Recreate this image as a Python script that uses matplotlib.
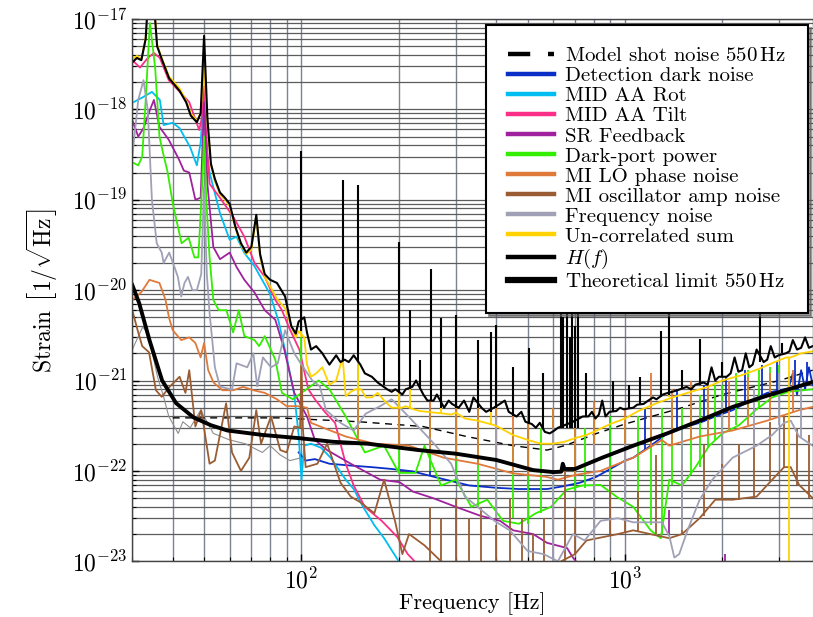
import numpy as np
import matplotlib
matplotlib.use('Agg')
import matplotlib.pyplot as plt
from matplotlib.ticker import NullFormatter, LogLocator

plt.rcParams['font.family'] = 'serif'
plt.rcParams['font.serif'] = ['cmr10']
plt.rcParams['mathtext.fontset'] = 'cm'
plt.rcParams['axes.formatter.use_mathtext'] = True

# ---- Model shot noise 550 Hz (dashed)
f_model = [40, 85, 150, 237, 324, 451, 574, 650, 725, 818, 1000, 1500, 2000, 3000, 3800]
v_model = [3.86e-22, 3.86e-22, 3.5e-22, 3.1e-22, 2.4e-22, 1.9e-22, 1.7e-22, 1.9e-22,
           2.2e-22, 2.6e-22, 3.3e-22, 5e-22, 7e-22, 1e-21, 1.3e-21]

# ---- thin grey trace (no legend entry)
f_thin = [30, 32.3, 33.5, 35.9, 37.5, 38.9, 41.6, 43, 45.3, 48.8, 53.4, 60, 67, 75.7, 80, 86, 92, 100]
v_thin = [2.2e-21, 3.9e-21, 3.4e-21, 1.1e-21, 6.6e-22, 4e-22, 2.6e-22, 3.5e-22, 3e-22, 4.7e-22,
          2.6e-22, 2.2e-22, 2e-22, 1.6e-22, 1.9e-22, 1.5e-22, 1.3e-22, 1.4e-22]

# ---- Detection dark noise
f_dark = [98, 103, 110, 122, 140, 165, 190, 220, 260, 300, 330, 400, 470, 574, 650, 725, 815,
          900, 1000, 1060, 1200, 1350, 1500, 1700, 1900, 2150, 2400, 2750, 3200, 3300, 3400,
          3500, 3600, 3700, 3800]
v_dark = [1.6e-22, 1.3e-22, 1.35e-22, 1.2e-22, 1.15e-22, 1.1e-22, 1.05e-22, 9.9e-23, 8.5e-23,
          7.5e-23, 6.9e-23, 6.5e-23, 6.3e-23, 6.3e-23, 6.8e-23, 7.4e-23, 8.6e-23, 1.05e-22,
          1.3e-22, 1.4e-22, 1.9e-22, 2.6e-22, 3e-22, 3.4e-22, 4e-22, 4.7e-22, 5.8e-22, 7.3e-22,
          8.2e-22, 1.2e-21, 7e-22, 1.3e-21, 8e-22, 1.4e-21, 8.9e-22]
sf_dark = [250, 300, 400, 500, 700, 900, 1150, 1450, 1750, 2050, 2350, 2650, 2950, 3350, 3650]
slo_dark = [9e-23, 7.5e-23, 6.5e-23, 6.3e-23, 7e-23, 1e-22, 1.7e-22, 2.9e-22, 3.5e-22, 4.4e-22,
            5.6e-22, 7e-22, 7.8e-22, 8.4e-22, 8.7e-22]
shi_dark = [3e-22, 4e-22, 3e-22, 3e-22, 3e-22, 4e-22, 5e-22, 8e-22, 9e-22, 1.1e-21, 1.3e-21,
            1.5e-21, 1.6e-21, 1.7e-21, 1.6e-21]

# ---- MID AA Rot
f_rot = [30, 32.2, 34.5, 36.5, 37.5, 40, 42, 45.3, 47.5, 48.8, 50, 51.2, 52, 56, 60, 63, 66.5,
         71.5, 76.5, 80, 85, 90, 95, 98, 100, 102, 107, 115, 123, 137, 145, 155, 168, 180, 198, 215]
v_rot = [1.18e-18, 1.35e-18, 1.56e-18, 1.27e-18, 6.7e-19, 7.1e-19, 6.2e-19, 3.8e-19, 2.4e-19,
         4.3e-19, 1.5e-18, 3e-19, 2e-19, 7.1e-20, 3.6e-20, 3.9e-20, 2.6e-20, 1.85e-20, 1.2e-20,
         9e-21, 4.5e-21, 1.8e-21, 7e-22, 2.5e-22, 8e-23, 1.9e-22, 2e-22, 1.8e-22, 1.4e-22, 8e-23,
         6.3e-23, 4e-23, 2.5e-23, 1.8e-23, 1.05e-23, 6e-24]

# ---- MID AA Tilt
f_tilt = [30, 31.7, 33.5, 35, 36.5, 38.9, 41.8, 45, 48.3, 49.2, 50, 50.8, 52, 56, 61.5, 66.6,
          71.6, 77, 83, 87, 92, 98.5, 105, 110, 118, 127, 137, 145, 157, 177, 198, 213, 230]
v_tilt = [3.5e-18, 2.9e-18, 3.7e-18, 4.2e-18, 3.7e-18, 2.1e-18, 1.6e-18, 1.2e-18, 5.9e-19,
          8e-19, 1.8e-18, 5e-19, 1.5e-19, 1.05e-19, 6.5e-20, 3.9e-20, 2e-20, 1.4e-20, 7.8e-21,
          6e-21, 3.7e-21, 2.2e-21, 8e-22, 6.2e-22, 4.5e-22, 3.4e-22, 1.2e-22, 6.9e-23, 4e-23,
          2.8e-23, 1.85e-23, 1.2e-23, 9e-24]

# ---- SR Feedback
f_sr = [30, 31.3, 32.5, 34, 35, 36.4, 38.9, 41.8, 43.3, 45, 47, 48.8, 50, 51.2, 53.4, 56, 60,
        63, 66.6, 71.6, 77, 83, 88.5, 95, 104, 110, 120, 142, 175, 201, 221, 255, 300, 356,
        411, 451, 520, 574, 662, 690, 740, 800]
v_sr = [7.6e-19, 5e-19, 6.2e-19, 9.8e-19, 1.27e-18, 6.4e-19, 4.6e-19, 2.8e-19, 2.1e-19, 2e-19,
        1e-19, 1.05e-19, 1.2e-18, 1.5e-19, 3e-20, 2.2e-20, 2.6e-20, 1.8e-20, 1.3e-20, 9.4e-21,
        6e-21, 4.7e-21, 2.2e-21, 7.3e-22, 4e-22, 2.2e-22, 1.7e-22, 1.2e-22, 8e-23, 7.5e-23,
        5.9e-23, 5e-23, 4e-23, 3.2e-23, 2.8e-23, 2.2e-23, 2e-23, 1.6e-23, 1.4e-23, 1.1e-23,
        8e-24, 6e-24]
sf_sr = [1370, 2040]
slo_sr = [1.9e-23, 9e-24]
shi_sr = [3.7e-23, 1.2e-23]

# ---- Dark-port power
f_dp = [30, 31.3, 32.2, 33, 34, 35.3, 36.4, 37.2, 38.6, 40, 42.6, 44.8, 46.7, 48, 49.3, 50,
        50.8, 52, 53.4, 55.5, 58.6, 61.5, 64, 66.6, 71.6, 74, 77, 83, 87, 94, 113, 122, 137,
        157, 180, 200, 225, 240, 270, 300, 335, 375, 420, 470, 530, 590, 660, 740, 840, 940,
        1060, 1200, 1290, 1370, 1500, 1650, 1820, 2000, 2250, 2550, 2850, 3200, 3800]
v_dp = [2.6e-19, 2.4e-19, 3e-19, 1.27e-18, 9e-18, 2.9e-18, 5e-19, 3.5e-19, 2e-19, 9.2e-20,
        3.3e-20, 3.8e-20, 2.3e-20, 2.3e-20, 1.4e-19, 5e-19, 1e-19, 2.3e-20, 7.8e-21, 6e-21,
        6e-21, 3.4e-21, 6e-21, 3.1e-21, 2.8e-21, 2.4e-21, 3.1e-21, 1.7e-21, 7.3e-22, 6.2e-22,
        1e-21, 8e-22, 4e-22, 1.6e-22, 1.9e-22, 9.5e-23, 9.5e-23, 1.9e-22, 6.9e-23, 8e-23,
        4e-23, 4.8e-23, 2.8e-23, 2.6e-23, 3.4e-23, 4e-23, 6.2e-23, 6.9e-23, 7e-23, 5.2e-23,
        4e-23, 2.2e-23, 1.8e-23, 8e-23, 6.9e-23, 1.1e-22, 1.9e-22, 2.6e-22, 3.2e-22, 4.8e-22,
        6.5e-22, 7.5e-22, 8e-22]
sf_dp = [100, 150, 200, 250, 300, 350, 400, 450, 500, 550, 600, 700, 750, 800, 900, 1000,
         1100, 1200, 1300, 1400, 1500, 1600, 1700, 1800, 1900, 2000, 2200, 2400, 2600, 2800, 3000]
slo_dp = [6e-22, 2.5e-22, 9.5e-23, 1e-22, 8e-23, 4e-23, 4.8e-23, 3e-23, 2.6e-23, 3.4e-23,
          4e-23, 6e-23, 6.5e-23, 7e-23, 6e-23, 5e-23, 4e-23, 2.5e-23, 2e-23, 7e-23, 7e-23,
          9e-23, 1.1e-22, 1.8e-22, 2.2e-22, 2.6e-22, 3.2e-22, 4.2e-22, 5e-22, 6.5e-22, 7e-22]
shi_dp = [3e-21, 2e-21, 1.5e-21, 5e-22, 1e-21, 5e-22, 6e-22, 3e-22, 4e-22, 3e-22, 5e-22,
          4e-22, 3e-22, 5e-22, 4e-22, 3.5e-22, 4e-22, 3e-22, 5e-22, 6e-22, 5e-22, 6e-22, 7e-22,
          8e-22, 9e-22, 9e-22, 1.2e-21, 1.3e-21, 1.3e-21, 1.4e-21, 1.5e-21]

# ---- MI LO phase noise
f_lo = [30, 32, 33.9, 36.4, 38, 39, 40, 42.5, 45, 47, 48.8, 50, 51.5, 53.5, 57, 61.5, 66, 71,
        77, 84, 90, 97, 104, 107, 137, 168, 215, 275, 350, 450, 570, 620, 700, 840, 1060, 1300,
        1370, 1700, 2150, 2750, 3450, 3800]
v_lo = [7.8e-21, 9.5e-21, 1.3e-20, 1.2e-20, 7.8e-21, 4.9e-21, 3.6e-21, 2.8e-21, 3e-21, 2.6e-21,
        1.8e-21, 2.6e-21, 1.3e-21, 9.5e-22, 7.8e-22, 7.8e-22, 8.5e-22, 7.8e-22, 7.3e-22, 6.2e-22,
        5.2e-22, 5.2e-22, 5e-22, 3.4e-22, 2.4e-22, 2e-22, 1.9e-22, 1.4e-22, 1.2e-22, 9.4e-23,
        8.6e-23, 8e-23, 9e-23, 1e-22, 1.4e-22, 2.2e-22, 1.9e-22, 2.4e-22, 2.8e-22, 3.6e-22,
        4.7e-22, 5.1e-22]
sf_lo = [100, 150, 200, 250, 300, 350, 400, 450, 500, 600, 700, 800, 1000, 1200, 1400, 1600,
         1800, 2100, 2400, 2800, 3300]
slo_lo = [5e-22, 2.2e-22, 2e-22, 1.7e-22, 1.4e-22, 1.2e-22, 1.1e-22, 9.5e-23, 9e-23, 8e-23,
          8.5e-23, 9.5e-23, 1.2e-22, 1.8e-22, 1.9e-22, 2.3e-22, 2.5e-22, 2.8e-22, 3.2e-22,
          3.7e-22, 4.5e-22]
shi_lo = [1.5e-21, 8e-22, 1.5e-21, 6e-22, 1e-21, 5e-22, 1.4e-21, 6e-22, 8e-22, 5e-22, 6e-22,
          6e-22, 5e-22, 1.2e-21, 8e-22, 1e-21, 9e-22, 1e-21, 1.1e-21, 1.2e-21, 1.3e-21]

# ---- MI oscillator amp noise
f_amp = [30, 31.3, 32.2, 33.8, 35.5, 37, 39, 42, 43.8, 45, 47, 49, 52, 54, 58.5, 61, 65, 69,
         72.5, 75, 80.5, 86, 90, 95, 99, 100, 101, 103, 112, 120, 132, 142, 152, 168, 180, 195,
         205, 215, 240, 270, 320, 400, 500, 600, 700, 760, 950, 1060, 1370, 1500, 1700, 1900,
         2150, 2550, 2850, 3100, 3250, 3450, 3800]
v_amp = [6e-21, 3.4e-21, 2.4e-21, 2.05e-21, 7.8e-22, 6.6e-22, 8.4e-22, 1.1e-21, 7.3e-22,
         1.3e-21, 3.1e-22, 4.7e-22, 1.2e-22, 1.3e-22, 5.6e-22, 1.6e-22, 1e-22, 1.4e-22, 4.7e-22,
         2e-22, 4e-22, 1.7e-22, 1.6e-22, 3.1e-22, 3e-22, 1.5e-21, 3e-22, 1.1e-22, 1.2e-22, 2e-22,
         7.4e-23, 5.2e-23, 4.5e-23, 3.4e-23, 8e-23, 2.7e-23, 1.2e-23, 2e-23, 1.5e-23, 1e-23,
         8e-24, 8e-24, 8e-24, 9e-24, 1.2e-23, 1.7e-23, 2e-23, 2.2e-23, 1.8e-23, 2e-23, 3e-23,
         4.8e-23, 4.8e-23, 5.2e-23, 8e-23, 1.1e-22, 1.1e-22, 7e-23, 5e-23]
sf_amp = [250, 270, 300, 330, 360, 400, 440, 480, 520, 560, 600, 650, 700, 800, 900, 1000,
          1100, 1250, 1500, 1750, 2000, 2250, 2500, 2800, 3100, 3400, 3700]
slo_amp = [8e-24, 8e-24, 8e-24, 8e-24, 8e-24, 8e-24, 8e-24, 8e-24, 8e-24, 8e-24, 1e-23, 1e-23,
           1.2e-23, 1.8e-23, 2e-23, 2.1e-23, 2.1e-23, 2e-23, 2e-23, 3.2e-23, 4.8e-23, 4.8e-23,
           5e-23, 8e-23, 1.1e-22, 7e-23, 5e-23]
shi_amp = [4e-23, 3e-23, 5e-23, 3e-23, 4e-23, 2.5e-23, 5e-23, 3e-23, 2e-23, 3e-23, 5e-23,
           1e-22, 4e-23, 1e-22, 8e-23, 1.2e-22, 6e-23, 1.5e-22, 1.2e-22, 2e-22, 2.5e-22, 2e-22,
           3e-22, 3.5e-22, 4e-22, 3e-22, 2.5e-22]

# ---- Frequency noise
f_fn = [30, 31.3, 32.5, 33.5, 34.5, 35.7, 37, 37.5, 39, 39.7, 40.5, 41.5, 42.5, 43.5, 44.6, 46,
        47.5, 49, 50, 51, 52, 54, 56, 61, 63, 68, 71, 73, 76, 80.5, 84.5, 89, 95, 100, 108, 114,
        119, 132, 145, 158, 175, 190, 210, 245, 260, 290, 320, 350, 395, 440, 500, 560, 620, 690,
        750, 840, 950, 1060, 1200, 1300, 1370, 1420, 1470, 1560, 1700, 1860, 2150, 2550, 2850,
        3100, 3250, 3450, 3800]
v_fn = [3e-19, 1.27e-18, 2.1e-18, 9.8e-19, 1e-19, 3.3e-20, 2.6e-20, 2e-20, 2.6e-20, 2.2e-20,
        1.8e-20, 1.4e-20, 8.5e-21, 1.2e-20, 1.4e-20, 1e-20, 1e-20, 1.5e-20, 1.4e-19, 1.5e-20,
        5.6e-21, 1.4e-21, 8.6e-22, 7.9e-22, 1.55e-21, 1.4e-21, 2e-21, 8.6e-22, 1.8e-21, 1.4e-21,
        1.55e-21, 3.6e-21, 2e-21, 1.5e-21, 1e-21, 8.6e-22, 4.7e-22, 3.4e-22, 2.8e-22, 4.3e-22,
        5.2e-22, 6.2e-22, 4.3e-22, 2.4e-22, 1.9e-22, 1.2e-22, 5.2e-23, 4e-23, 2.8e-23, 2.2e-23,
        1.3e-23, 1.2e-23, 1e-23, 2e-23, 1.7e-23, 2.8e-23, 3e-23, 2.7e-23, 2.7e-23, 2.7e-23,
        1.9e-23, 1.1e-23, 1.2e-23, 2.2e-23, 4.8e-23, 8e-23, 1.4e-22, 1.9e-22, 2.5e-22, 3.4e-22,
        3.6e-22, 2.4e-22, 1.9e-22]
sf_fn = [400, 600, 800, 1000, 1500, 2000, 2500, 3000, 3500]
slo_fn = [3e-23, 1e-23, 1.7e-23, 3e-23, 2.2e-23, 1.2e-22, 1.9e-22, 3.2e-22, 2.4e-22]
shi_fn = [4e-22, 3e-22, 2e-22, 2e-22, 3e-22, 6e-22, 8e-22, 1.2e-21, 9e-22]

# ---- Un-correlated sum
f_sum = [30, 31, 32, 33, 33.8, 34.8, 35.8, 37, 39, 42, 44, 45.5, 47.5, 48.8, 50, 51.2, 52.5,
         54, 56, 58, 60, 62.5, 65, 67.5, 70, 72.5, 74.5, 77, 80, 84, 89, 93, 96, 98, 102, 104,
         107, 111, 116, 122, 128, 134, 137, 142, 147, 153, 158, 165, 172, 180, 190, 204, 210,
         222, 232, 245, 276, 290, 300, 320, 350, 395, 410, 450, 500, 550, 600, 650, 700, 760,
         800, 850, 900, 1000, 1100, 1250, 1400, 1600, 1800, 2000, 2300, 2600, 2900, 3150, 3250,
         3500, 3800]
v_sum = [3.6e-18, 3.9e-18, 3.6e-18, 6.2e-18, 2.5e-17, 2e-17, 5.2e-18, 3.7e-18, 2.3e-18,
         1.7e-18, 1.25e-18, 9e-19, 7.5e-19, 9e-19, 2.9e-18, 7e-19, 2.4e-19, 1.6e-19, 1.15e-19,
         1e-19, 8.5e-20, 4.8e-20, 3.2e-20, 2.5e-20, 2.8e-20, 6.5e-20, 2.3e-20, 1.4e-20, 1.1e-20,
         8e-21, 6.3e-21, 4e-21, 3e-21, 3.5e-21, 3e-21, 1.5e-21, 1.1e-21, 1.2e-21, 1.4e-21, 9e-22,
         1e-21, 1.8e-21, 6.7e-22, 7.5e-22, 8e-22, 8e-22, 6.5e-22, 6.5e-22, 7.3e-22, 6e-22, 5e-22,
         5e-22, 5.2e-22, 4.8e-22, 4.6e-22, 4.5e-22, 4.3e-22, 4.2e-22, 4.4e-22, 3.8e-22, 3.6e-22,
         3.2e-22, 3e-22, 2.5e-22, 2.2e-22, 2e-22, 2e-22, 2.1e-22, 2.3e-22, 2.5e-22, 2.7e-22,
         3e-22, 3.3e-22, 3.8e-22, 4.6e-22, 5.6e-22, 6.5e-22, 7.5e-22, 8.5e-22, 1e-21, 1.15e-21,
         1.35e-21, 1.6e-21, 1.8e-21, 1.8e-21, 2e-21, 2.1e-21]
sf_sum = [100, 150, 200, 216, 270, 386, 1370, 3200]
slo_sum = [3e-21, 7e-22, 5e-22, 5e-22, 4.4e-22, 3.2e-22, 6.5e-22, 1e-24]
shi_sum = [3.4e-20, 1.4e-20, 2.5e-21, 6e-21, 4.9e-21, 3.4e-21, 5.6e-21, 1.8e-21]

# ---- H(f)
f_h = [30, 31, 32, 33, 33.8, 34.8, 35.8, 37, 39, 42, 44, 45.5, 47.5, 48.8, 50, 51.2, 52.5, 54,
       56, 58, 60, 62.5, 65, 67.5, 70, 72.5, 74.5, 77, 80, 84, 89, 93, 96, 98, 102, 104, 107,
       111, 116, 122, 128, 132, 136, 140, 145, 152, 157, 165, 172, 184, 190, 195, 205, 210, 220,
       226, 238, 245, 256, 262, 276, 285, 292, 306, 318, 330, 340, 360, 372, 393, 410, 425, 437,
       462, 478, 492, 515, 530, 545, 565, 585, 605, 620, 650, 690, 740, 770, 790, 810, 830, 850,
       870, 895, 940, 965, 990, 1060, 1090, 1140, 1180, 1220, 1250, 1310, 1340, 1400, 1450,
       1550, 1600, 1650, 1750, 1800, 1850, 1900, 1950, 2060, 2120, 2180, 2240, 2300, 2360, 2420,
       2480, 2550, 2680, 2750, 2820, 2900, 2980, 3140, 3220, 3300, 3400, 3500, 3600, 3700, 3800]
v_h = [3.3e-18, 3.7e-18, 3.5e-18, 6e-18, 2.5e-17, 2e-17, 5e-18, 3.6e-18, 2.2e-18, 1.6e-18,
       1.2e-18, 8.5e-19, 7.2e-19, 9e-19, 6.5e-18, 8e-19, 2.5e-19, 1.7e-19, 1.2e-19, 1.05e-19,
       9e-20, 5e-20, 3.3e-20, 2.6e-20, 3e-20, 6.8e-20, 2.5e-20, 1.5e-20, 1.3e-20, 1.2e-20,
       8.5e-21, 4e-21, 3.3e-21, 4.5e-21, 5e-21, 3.4e-21, 2.2e-21, 2.4e-21, 2e-21, 1.5e-21,
       1.9e-21, 1.6e-21, 1.7e-21, 1.6e-21, 1.9e-21, 1.5e-21, 1.2e-21, 1.1e-21, 9.5e-22, 8e-22,
       7.5e-22, 8e-22, 7e-22, 8e-22, 8.5e-22, 1e-21, 7e-22, 6e-22, 6e-22, 7e-22, 5e-22, 6e-22,
       5.5e-22, 5e-22, 6e-22, 4.5e-22, 6.5e-22, 5e-22, 4.5e-22, 5e-22, 5.5e-22, 6e-22, 4.5e-22,
       4e-22, 4.5e-22, 3.5e-22, 3.3e-22, 3e-22, 3.4e-22, 2.7e-22, 2.6e-22, 2.8e-22, 3e-22,
       3.2e-22, 3.5e-22, 4e-22, 4e-22, 4.5e-22, 3.8e-22, 4.2e-22, 6e-22, 4e-22, 4.5e-22, 4.6e-22,
       5e-22, 4.8e-22, 5e-22, 5.4e-22, 5.5e-22, 6e-22, 6.5e-22, 6.2e-22, 7e-22, 7.2e-22, 7.5e-22,
       7.8e-22, 8.5e-22, 8e-22, 9e-22, 9.5e-22, 9e-22, 1.4e-21, 1e-21, 1.1e-21, 1.1e-21, 1.2e-21,
       1.8e-21, 1.25e-21, 1.3e-21, 2e-21, 1.4e-21, 1.5e-21, 2.2e-21, 1.6e-21, 1.7e-21, 2.4e-21,
       1.8e-21, 1.9e-21, 2e-21, 2.1e-21, 2.8e-21, 2.2e-21, 2.3e-21, 3e-21, 2.3e-21, 2.4e-21]
sf_h = [100, 134, 150, 180, 200, 216, 232, 251, 270, 300, 350, 386, 400, 450, 505, 556, 632,
        645, 662, 675, 686, 700, 717, 755, 920, 1030, 1110, 1290, 1370, 1500, 1700, 2000, 2620,
        3060]
slo_h = [3.5e-21, 1.7e-21, 1.6e-21, 9e-22, 7.5e-22, 8e-22, 8e-22, 6e-22, 5e-22, 5e-22, 5e-22,
         4.5e-22, 5e-22, 4e-22, 3.3e-22, 3e-22, 3e-22, 3e-22, 3e-22, 3e-22, 3e-22, 3e-22, 3e-22,
         4e-22, 4.5e-22, 5e-22, 5.5e-22, 6.5e-22, 7e-22, 8e-22, 9e-22, 1.1e-21, 1.6e-21, 2e-21]
shi_h = [3.5e-19, 1.66e-19, 1.46e-19, 3e-21, 3.4e-20, 6e-21, 1.7e-21, 1.7e-20, 4.9e-21,
         5.3e-21, 2.8e-21, 3.4e-21, 4.1e-21, 1.4e-21, 2.3e-21, 1.2e-21, 2e-20, 5e-21, 3e-20,
         3e-21, 2e-20, 4e-21, 2e-20, 1.2e-21, 1e-21, 9e-22, 1.1e-21, 3.5e-21, 5.6e-21, 1.3e-21,
         2.9e-21, 1.6e-21, 8e-21, 2.6e-21]

# ---- Theoretical limit 550 Hz
f_th = [30, 31.5, 33.9, 37.1, 41, 46.4, 52.5, 59, 75.7, 98.6, 125, 160, 230, 300, 400, 520,
        600, 635, 642, 650, 700, 850, 1060, 1350, 1700, 2150, 2750, 3800]
v_th = [1.14e-20, 7.2e-21, 2.8e-21, 1.0e-21, 5.6e-22, 3.9e-22, 3.2e-22, 2.8e-22, 2.5e-22,
        2.3e-22, 2.1e-22, 2e-22, 1.7e-22, 1.55e-22, 1.32e-22, 1.02e-22, 9.7e-23, 9.8e-23,
        1.2e-22, 1.05e-22, 1.05e-22, 1.4e-22, 1.9e-22, 2.6e-22, 3.6e-22, 5.1e-22, 6.8e-22, 9.6e-22]

x_ticks = [100, 1000]
y_ticks = [1e-23, 1e-22, 1e-21, 1e-20, 1e-19, 1e-18, 1e-17]


fig = plt.figure(figsize=(8.13, 6.17), dpi=100)
ax = fig.add_axes([0.1627, 0.0903, 0.8369, 0.879])


def trace(f, v, color, label, lw=1.3, spikes=None, **kw):
    ln, = ax.plot(f, v, color=color, lw=lw, label=label, **kw)
    if spikes is not None:
        ax.vlines(spikes[0], spikes[1], spikes[2], color=color, lw=lw)
    return ln


trace(f_thin, v_thin, '#8e8e8e', '_nolegend_', lw=0.8)
trace(f_model, v_model, 'black', r'Model shot noise 550$\,$Hz', lw=1.0, ls=(0, (5, 4)))
trace(f_dark, v_dark, '#0a2ec8', 'Detection dark noise', spikes=(sf_dark, slo_dark, shi_dark))
trace(f_rot, v_rot, '#00bdf2', 'MID AA Rot')
trace(f_tilt, v_tilt, '#fb2f88', 'MID AA Tilt')
trace(f_sr, v_sr, '#a0219e', 'SR Feedback', spikes=(sf_sr, slo_sr, shi_sr))
trace(f_dp, v_dp, '#33ee00', 'Dark-port power', spikes=(sf_dp, slo_dp, shi_dp))
trace(f_lo, v_lo, '#df7a3a', 'MI LO phase noise', spikes=(sf_lo, slo_lo, shi_lo))
trace(f_amp, v_amp, '#9a5d33', 'MI oscillator amp noise', spikes=(sf_amp, slo_amp, shi_amp))
trace(f_fn, v_fn, '#a0a0b6', 'Frequency noise', spikes=(sf_fn, slo_fn, shi_fn))
trace(f_sum, v_sum, '#ffd200', 'Un-correlated sum', spikes=(sf_sum, slo_sum, shi_sum))
trace(f_h, v_h, 'black', r'$H(f)$', lw=1.5, spikes=(sf_h, slo_h, shi_h))
trace(f_th, v_th, 'black', r'Theoretical limit 550$\,$Hz', lw=2.8)

ax.set_xscale('log')
ax.set_yscale('log')
ax.set_xlim(30, 3800)
ax.set_ylim(1e-23, 1e-17)

ax.set_xticks(x_ticks)
ax.set_yticks(y_ticks)
ax.yaxis.set_minor_locator(LogLocator(base=10, subs=np.arange(2, 10), numticks=100))
ax.yaxis.set_minor_formatter(NullFormatter())
ax.xaxis.set_minor_formatter(NullFormatter())

ax.xaxis.grid(True, which='both', color='#7b8491', lw=1.0)
ax.yaxis.grid(True, which='both', color='#5c5c5c', lw=0.9)
ax.set_axisbelow(True)
ax.tick_params(which='both', direction='in', labelsize=17, top=False, right=False)
ax.tick_params(which='major', length=5, width=1.0)
ax.tick_params(which='minor', length=3, width=0.8)
ax.tick_params(axis='x', pad=5)
for s in ax.spines.values():
    s.set_color('#444444')
    s.set_linewidth(1.0)

ax.set_xlabel('Frequency [Hz]', fontsize=16, labelpad=-1)
ax.set_ylabel(r'Strain $\left[1/\sqrt{\mathrm{Hz}}\right]$', fontsize=17, labelpad=8)

leg = ax.legend(loc='upper right', bbox_to_anchor=(0.993, 0.989), fontsize=15,
                frameon=True, fancybox=False, shadow={'color': '0.35', 'alpha': 0.6},
                edgecolor='black', framealpha=1.0, handlelength=2.2, handletextpad=0.55,
                labelspacing=0.07, borderpad=1.05, borderaxespad=0.0)
leg.get_frame().set_linewidth(1.5)
for h in leg.get_lines():
    h.set_linewidth(3.2)
leg.get_lines()[-1].set_linewidth(4.5)

fig.savefig('out.png', dpi=100)
